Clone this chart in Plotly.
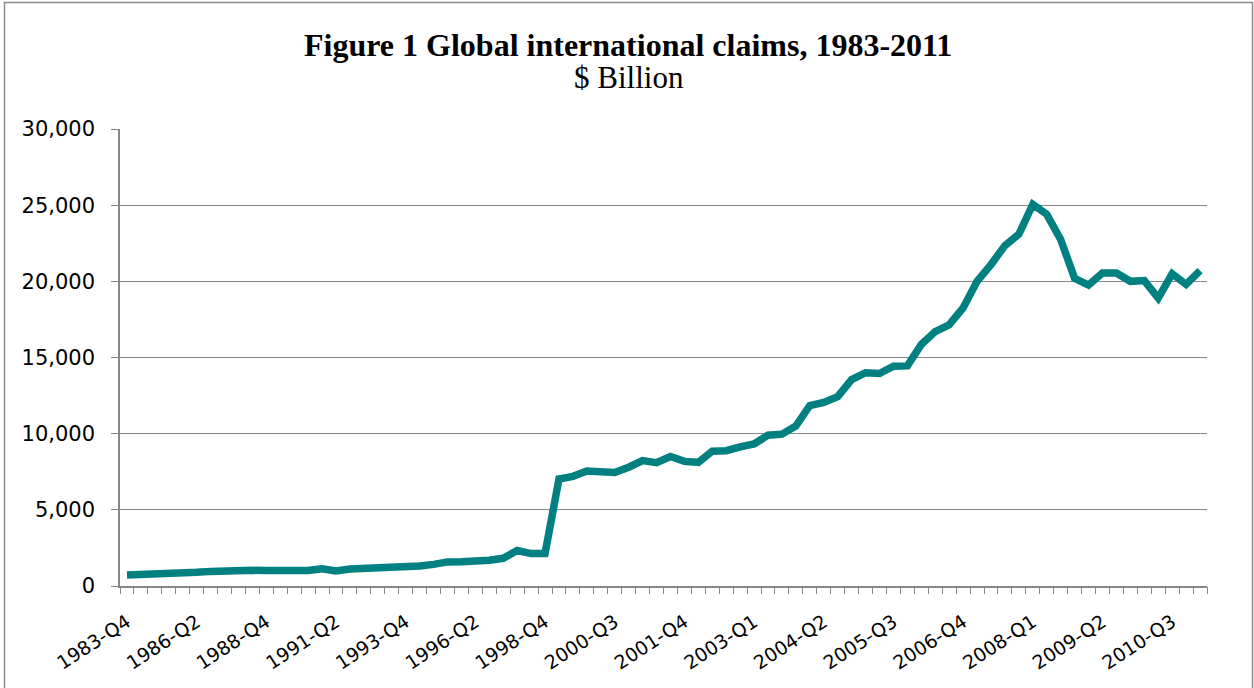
import plotly.graph_objects as go

# Categories: semi-annual 1983-Q4..1999-Q4, then quarterly 2000-Q1..2011-Q1
semi_annual = ["1983-Q4"] + [f"{y}-{q}" for y in range(1984, 2000) for q in ("Q2", "Q4")]
quarterly = [f"{y}-Q{q}" for y in range(2000, 2011) for q in (1, 2, 3, 4)] + ["2011-Q1"]
categories = semi_annual + quarterly

claims_semi = [720, 740, 750, 780, 850, 900, 960, 1000, 1090, 1030,
               1010, 1000, 1050, 1020, 1130, 990, 1110, 1140, 1170, 1190,
               1240, 1320, 1420, 1580, 1600, 1610, 1690, 1820, 2330, 2130,
               2130, 7020, 7200]
claims_quarterly = [7550, 7560, 7450, 7800, 8230, 8100, 8500, 8180, 8120, 8850,
                    8880, 9130, 9320, 9900, 9970, 10500, 11850, 12050, 12430, 13550,
                    14000, 13950, 14430, 14450, 15850, 16700, 17150, 18250, 20000, 21100,
                    22350, 23100, 25050, 24400, 22750, 20200, 19750, 20550, 20550, 20000,
                    20050, 18900, 20500, 19800, 20700]
claims = claims_semi + claims_quarterly

tick_labels = categories[::5]

title_text = "Figure 1 Global international claims, 1983-2011"
subtitle_text = "$ Billion"

W, H = 1254, 688
L, R, T, B = 120, 47, 129, 102
pw, ph = W - L - R, H - T - B

def px_x(x):
    return (x - L) / pw

def px_y(y):
    return (H - B - y) / ph

GRID = "#878787"

fig = go.Figure()
fig.add_trace(go.Scatter(
    x=categories, y=claims, mode="lines",
    line=dict(color="#008080", width=7.5, shape="linear"),
    showlegend=False, hoverinfo="x+y",
))
# invisible helper trace for the boundary tick axis
fig.add_trace(go.Scatter(
    x=[-0.5, len(categories) - 0.5], y=[None, None], xaxis="x2", mode="lines",
    showlegend=False, hoverinfo="skip",
))

fig.update_layout(
    width=W, height=H,
    margin=dict(l=L, r=R, t=T, b=B),
    paper_bgcolor="white", plot_bgcolor="white",
    font=dict(family="DejaVu Sans", color="black"),
    xaxis=dict(
        type="category",
        categoryorder="array", categoryarray=categories,
        range=[-0.5, len(categories) - 0.5],
        tickmode="array", tickvals=tick_labels, ticktext=tick_labels,
        tickangle=-33, ticks="", showgrid=False,
        showline=True, linecolor=GRID, linewidth=1.5,
        tickfont=dict(size=19, family="DejaVu Sans", color="black"),
        ticklabelstandoff=16,
        zeroline=False,
    ),
    xaxis2=dict(
        overlaying="x", anchor="y", side="bottom",
        range=[-0.5, len(categories) - 0.5],
        tickmode="linear", tick0=-0.5, dtick=1,
        ticks="outside", ticklen=7, tickcolor=GRID, tickwidth=1.3,
        showticklabels=False, showgrid=False, showline=False, zeroline=False,
    ),
    yaxis=dict(
        range=[0, 30000], dtick=5000, tickformat=",",
        showgrid=True, gridcolor=GRID, gridwidth=1.3,
        showline=True, linecolor=GRID, linewidth=1.5,
        ticks="outside", ticklen=7, tickcolor=GRID, tickwidth=1.3,
        tickfont=dict(size=21, family="DejaVu Sans", color="black"),
        ticklabelstandoff=12,
        zeroline=False,
    ),
    annotations=[
        dict(text=f"<b>{title_text}</b>", xref="paper", yref="paper",
             x=px_x(628), y=px_y(45), xanchor="center", yanchor="middle",
             showarrow=False,
             font=dict(family="Liberation Serif", size=32, color="black")),
        dict(text=subtitle_text, xref="paper", yref="paper",
             x=px_x(629), y=px_y(78), xanchor="center", yanchor="middle",
             showarrow=False,
             font=dict(family="Liberation Serif", size=31, color="black")),
    ],
    shapes=[
        dict(type="rect", xref="paper", yref="paper",
             x0=px_x(4.5), x1=px_x(1252.5), y0=px_y(720), y1=px_y(2.5),
             line=dict(color="#8c8c8c", width=1.5), fillcolor="rgba(0,0,0,0)",
             layer="below"),
    ],
)

fig.write_html(
    "out.html",
    config={"displayModeBar": False},
    post_script="document.body.style.margin='0';document.body.style.overflow='hidden';",
)
